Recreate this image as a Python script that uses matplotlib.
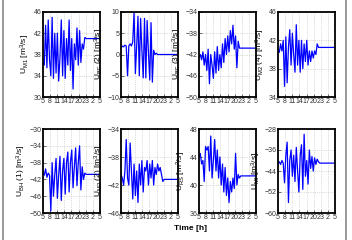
import numpy as np
import matplotlib
matplotlib.use("Agg")
import matplotlib.pyplot as plt
from matplotlib.lines import Line2D

plt.rcParams['font.family'] = ['Liberation Sans', 'DejaVu Sans']
plt.rcParams['mathtext.fontset'] = 'custom'
plt.rcParams['mathtext.rm'] = 'Liberation Sans'
plt.rcParams['mathtext.it'] = 'Liberation Sans'

# samples every 0.55 h starting at 5:00, last value held until 5:00 next day (= 29)
step = 0.55
tick_hours = [5, 8, 11, 14, 17, 20, 23, 26, 29]
tick_labels = ['5', '8', '11', '14', '17', '20', '23', '2', '5']

u1 = [36.5, 36, 43.5, 35.5, 44.5, 37, 34, 45, 33.5, 42, 34.5, 42, 33, 37.5, 44.5, 34, 42.5, 33.5,
      41, 36, 44.5, 35, 41, 31.5, 40, 37, 43, 36, 42.5, 36.5, 40, 39, 41.2, 41, 41, 41, 41, 41]
u2 = [1.5, 2, 1.8, 2.2, 2, -5, 2, 2.5, 2, 3, 10, -4.5, 2, 9, -5, 8.5, 1, -5.5, 8.5, -5.5,
      8, 0.5, -6, 7.5, -6.5, 1, 0, 0.3, 0, 0, 0, 0, 0, 0, 0, 0, 0, 0]
u3 = [-42.5, -42, -43, -41.5, -44, -42, -45, -41, -47.5, -42, -44, -46.5, -41.5, -45.5, -40.5, -45,
      -42, -44.5, -40, -43.5, -39, -42, -38.5, -41.5, -37.5, -40, -36.5, -41, -38.5, -44.5, -39.5,
      -40.8, -40.8, -40.8, -40.8, -40.8, -40.8, -40.8]
u4 = [40.5, 40.3, 41.5, 40.5, 42, 35.5, 42.5, 36, 41, 43.5, 38.5, 43, 40, 37.5, 44.2, 38.5, 42, 37.5,
      42, 38, 41.5, 39, 42, 38.5, 40.5, 39, 40.5, 39.5, 40.5, 40, 41.5, 41, 41, 41, 41, 41, 41, 41]
u5 = [-40.5, -41, -39.5, -41.5, -40.5, -41, -49.5, -38, -46, -41, -37, -46.5, -41, -36.5, -47, -40,
      -37, -45.5, -38, -35.5, -45, -38, -35, -44, -39, -34.5, -43.5, -38, -34, -44.5, -39, -42,
      -40.5, -40.8, -40.8, -40.8, -40.8, -40.8]
u6 = [-40.5, -41, -42, -40, -35.5, -41, -42, -36, -40, -44, -39, -43.5, -40, -44.5, -39, -42,
      -38.5, -43, -39.5, -40, -38.5, -42, -39, -41, -38.5, -42, -39.5, -40.5, -39, -40, -39.5,
      -40.5, -41.5, -41.2, -41.2, -41.2, -41.2, -41.2]
u7 = [44, 44.5, 43, 43.5, 40.5, 45.5, 45, 45.5, 42, 47, 41, 43.5, 46.5, 42, 45, 41, 44, 40, 43, 39,
      42.5, 38.5, 41, 37.5, 40.5, 39, 41, 39.5, 44.5, 40, 41.5, 41, 41.3, 41.3, 41.3, 41.3, 41.3, 41.3]
u8 = [-41, -40.5, -41.5, -40, -41, -48.5, -38, -33, -56, -40, -36, -46, -38, -48, -35, -44, -52, -38,
      -34, -51, -30, -46, -40, -49, -36, -43, -38.5, -44, -39, -41.5, -39.5, -40.5, -41, -41, -41,
      -41, -41, -41]

series = [u1, u2, u3, u4, u5, u6, u7, u8]
ylabels = [r'U$_{M1}$ [m$^3$/s]', r'U$_{BF}$ (2) [m$^3$/s]', r'U$_{BF}$ (3) [m$^3$/s]',
           r'U$_{M2}$ (4) [m$^3$/s]', r'U$_{BH}$ (1) [m$^3$/s]', r'U$_{M2}$ (2) [m$^3$/s]',
           r'U$_{RS}$ [m$^3$/s]', r'U$_{MI}$ [m$^3$/s]']
yticks = [[30, 34, 38, 42, 46], [-10, -5, 0, 5, 10], [-50, -46, -42, -38, -34], [34, 38, 42, 46],
          [-50, -46, -42, -38, -34, -30], [-46, -42, -38, -34], [36, 40, 44, 48],
          [-60, -52, -44, -36, -28]]

W, H = 352, 240
fig = plt.figure(figsize=(W / 100, H / 100), dpi=100)
lefts = [43, 121, 199, 278]
rows = [(12, 97), (129, 213)]

for i in range(8):
    r, c = divmod(i, 4)
    top, bot = rows[r]
    ax = fig.add_axes([lefts[c] / W, 1 - bot / H, 57 / W, (bot - top) / H])
    s = series[i]
    t = [5 + step * k for k in range(len(s) - 1)] + [29]
    ax.plot(t, s, color='#0000ff', lw=0.9)
    ax.set_xlim(5, 29)
    ax.set_ylim(yticks[i][0], yticks[i][-1])
    ax.set_xticks(tick_hours)
    ax.set_xticklabels(tick_labels)
    ax.set_yticks(yticks[i])
    ax.tick_params(labelsize=5, length=2, width=0.5, direction='in', pad=1, colors='#333333')
    ax.grid(True, color='#bbbbbb', ls=':', lw=0.5)
    for sp in ax.spines.values():
        sp.set_linewidth(1.3)
    ax.set_ylabel(ylabels[i], fontsize=6, labelpad=1)

fig.text(190 / W, 1 - 229 / H, 'Time [h]', ha='center', va='center', fontsize=6, fontweight='bold')

# gray frame lines at the left and right sides
fig.add_artist(Line2D([2.5 / W, 2.5 / W], [0, 1], color='#888888', lw=1.2))
fig.add_artist(Line2D([345.5 / W, 345.5 / W], [0, 1], color='#888888', lw=1.2))

fig.savefig('out.png', dpi=100)
